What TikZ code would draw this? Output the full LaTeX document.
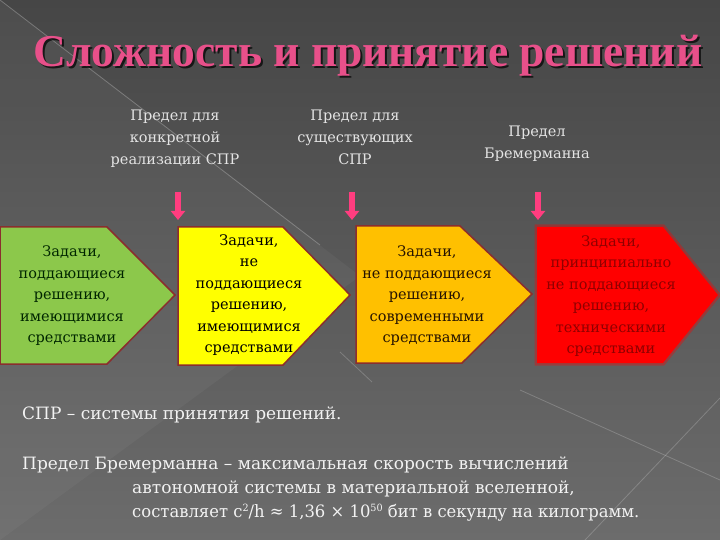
\documentclass[tikz,border=0pt]{standalone}
\usepackage{fontspec}
\usepackage{graphicx}
\setmainfont{DejaVu Serif}
\newfontfamily\titlefont{Liberation Serif}
\usetikzlibrary{arrows.meta}
\definecolor{bgtop}{HTML}{464646}
\definecolor{bgbot}{HTML}{6C6C6C}
\definecolor{gfill}{HTML}{8CC84B}
\definecolor{yfill}{HTML}{FFFF00}
\definecolor{ofill}{HTML}{FFC000}
\definecolor{rfill}{HTML}{FF0000}
\definecolor{bord}{HTML}{8B2E2E}
\definecolor{tpink}{HTML}{E8508A}
\definecolor{apink}{HTML}{FF3D7F}
\definecolor{lbl}{HTML}{E4E4E4}
\definecolor{btxt}{HTML}{F2F2F2}
\tikzset{
  pent/.style={draw=bord, line width=1.5pt, line join=miter},
  boxtext/.style={align=center, font=\fontsize{14.5}{21.5}\selectfont, inner sep=0pt},
  toplabel/.style={align=center, text=lbl, font=\fontsize{14.5}{22}\selectfont, inner sep=0pt},
  downarrow/.style={apink, line width=6pt, -{Triangle[width=14pt,length=9pt]}},
  bottomtext/.style={anchor=base west, text=btxt, font=\fontsize{17}{20}\selectfont, inner sep=0pt},
  titletext/.style={font=\titlefont\bfseries\fontsize{45.5}{50}\selectfont, inner sep=0pt},
}
\begin{document}
\begin{tikzpicture}[x=1pt,y=-1pt]
\useasboundingbox (0,0) rectangle (720,540);
\shade[top color=bgtop, bottom color=bgbot] (0,0) rectangle (720,540);
% subtle lighter triangle and diagonal lines
\fill[white, opacity=0.04] (0,0) -- (360,276) -- (0,540) -- cycle;
\draw[white, opacity=0.25, line width=0.8pt] (0,0) -- (320,245);
\draw[white, opacity=0.2, line width=0.8pt] (340,352) -- (372,382);
\draw[white, opacity=0.2, line width=0.8pt] (520,390) -- (720,480);
\draw[white, opacity=0.2, line width=0.8pt] (720,398) -- (585,540);

% title with shadow
\node[titletext, text=black, opacity=0.7] (titleshadow) at (370,58) {Сложность и принятие решений};
\node[titletext, text=tpink] (title) at (368,56) {Сложность и принятие решений};

% top labels
\node[toplabel] (l1) at (175,139) {Предел для\\конкретной\\реализации СПР};
\node[toplabel] (l2) at (355,137) {Предел для\\существующих\\СПР};
\node[toplabel] (l3) at (537,144) {Предел\\Бремерманна};

% boxes
\path[pent, fill=gfill] (0,227) -- (107,227) -- (175,295) -- (107,364) -- (0,364) -- cycle;
\path[pent, fill=yfill] (178,227) -- (283,227) -- (350,295) -- (283,365) -- (178,365) -- cycle;
\path[pent, fill=ofill] (356,226) -- (460,226) -- (532,294) -- (462,363) -- (356,363) -- cycle;
\path[draw=rfill, line width=5pt, opacity=0.35] (537,227) -- (663,227) -- (718,295) -- (663,363) -- (537,363) -- cycle;
\path[fill=rfill] (537,227) -- (663,227) -- (718,295) -- (663,363) -- (537,363) -- cycle;

\node[boxtext, text=black!85!green] (t1) at (72,296) {Задачи,\\поддающиеся\\решению,\\имеющимися\\средствами};
\node[boxtext, text=black] (t2) at (249,295) {Задачи,\\не\\поддающиеся\\решению,\\имеющимися\\средствами};
\node[boxtext, text=black!85!orange] (t3) at (427,296) {Задачи,\\не поддающиеся\\решению,\\современными\\средствами};
\node[boxtext, text=rfill!45!black, opacity=0.8] (t4) at (611,296) {Задачи,\\принципиально\\не поддающиеся\\решению,\\техническими\\средствами};

% pink arrows
\coordinate (a1s) at (178,192); \coordinate (a1e) at (178,220);
\coordinate (a2s) at (352,192); \coordinate (a2e) at (352,220);
\coordinate (a3s) at (538,192); \coordinate (a3e) at (538,220);
\draw[downarrow] (a1s) -- (a1e);
\draw[downarrow] (a2s) -- (a2e);
\draw[downarrow] (a3s) -- (a3e);

% bottom text
\node[bottomtext] (b1) at (22,419) {СПР – системы принятия решений.};
\node[bottomtext] (b2) at (22,469) {Предел Бремерманна – максимальная скорость вычислений};
\node[bottomtext] (b3) at (132,493) {автономной системы в материальной вселенной,};
\node[bottomtext] (b4) at (132,517) {\scalebox{0.965}[1]{составляет c{\fontsize{10}{10}\selectfont\raisebox{6pt}{2}}/h ≈ 1,36 × 10{\fontsize{10}{10}\selectfont\raisebox{6pt}{50}} бит в секунду на килограмм.}};
\end{tikzpicture}
\end{document}
